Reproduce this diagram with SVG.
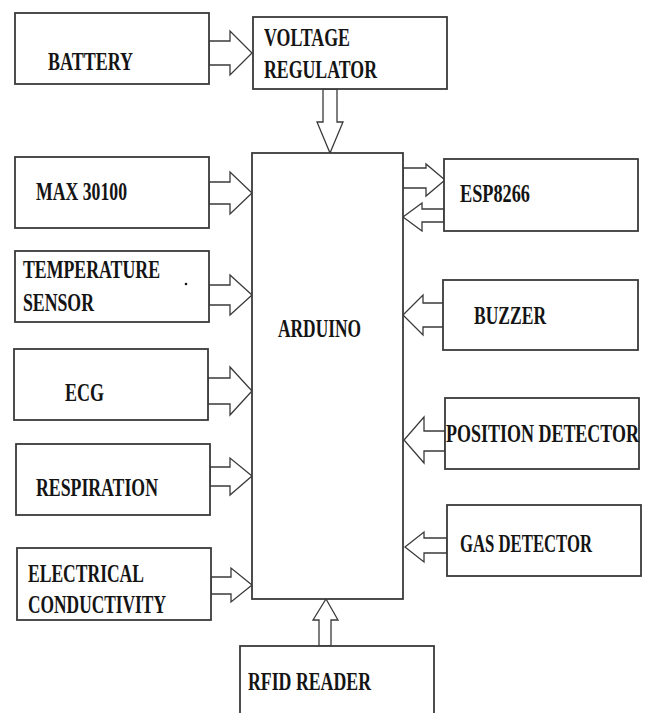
<svg xmlns="http://www.w3.org/2000/svg" width="646" height="713" viewBox="0 0 646 713">
<style>
.box{fill:#fff;stroke:#3a3a3a;stroke-width:1.8}
.arr{fill:#fff;stroke:#3a3a3a;stroke-width:1.3;stroke-linejoin:miter}
text{font-family:"Liberation Serif","Times New Roman",serif;font-weight:bold;font-size:25px;fill:#141414}
</style>
<rect width="646" height="713" fill="#fff"/>
<g id="connectors">
<polygon class="arr" points="209,41 230,41 230,31 252,53 230,75 230,65 209,65"/>
<polygon class="arr" points="323,89 323,122 317,122 330,153 343,122 337,122 337,89"/>
<polygon class="arr" points="209,182 230,182 230,172 252,193 230,214 230,204 209,204"/>
<polygon class="arr" points="209,285 230,285 230,275 252,295 230,315 230,305 209,305"/>
<polygon class="arr" points="208,378 230,378 230,367 252,391 230,415 230,404 208,404"/>
<polygon class="arr" points="210,467 230,467 230,458 252,476 230,495 230,486 210,486"/>
<polygon class="arr" points="211,577 231,577 231,568 252,585 231,602 231,594 211,594"/>
<polygon class="arr" points="319,646 319,620 313,620 326,599 338,620 331,620 331,646"/>
<polygon class="arr" points="403,168 426,168 426,164 445,180 426,196 426,188 403,188"/>
<polygon class="arr" points="444,209 422,209 422,203 403,217 422,231 422,222 444,222"/>
<polygon class="arr" points="444,303 423,303 423,295 403,315 423,335 423,327 444,327"/>
<polygon class="arr" points="445,431 424,431 424,417 404,440 424,463 424,451 445,451"/>
<polygon class="arr" points="447,538 424,538 424,532 405,547 424,562 424,553 447,553"/>
</g>
<g id="battery"><rect class="box" x="15" y="13" width="194" height="71"/><text transform="translate(48 70) scale(0.7 1)" textLength="121.4" lengthAdjust="spacingAndGlyphs">BATTERY</text></g>
<g id="voltage-regulator"><rect class="box" x="253" y="17" width="194" height="72"/><text transform="translate(264 46) scale(0.7 1)" textLength="122.9" lengthAdjust="spacingAndGlyphs">VOLTAGE</text><text transform="translate(264 78) scale(0.7 1)" textLength="161.4" lengthAdjust="spacingAndGlyphs">REGULATOR</text></g>
<g id="arduino"><rect class="box" x="252" y="153" width="151" height="446"/><text transform="translate(278 337) scale(0.7 1)" textLength="118.6" lengthAdjust="spacingAndGlyphs">ARDUINO</text></g>
<g id="max30100"><rect class="box" x="15" y="157" width="194" height="71"/><text transform="translate(36 200) scale(0.7 1)" textLength="130" lengthAdjust="spacingAndGlyphs">MAX 30100</text></g>
<g id="temperature-sensor"><rect class="box" x="15" y="251" width="194" height="71"/><text transform="translate(23 278) scale(0.7 1)" textLength="195.7" lengthAdjust="spacingAndGlyphs">TEMPERATURE</text><text transform="translate(23 311) scale(0.7 1)" textLength="101.4" lengthAdjust="spacingAndGlyphs">SENSOR</text><circle cx="186" cy="284" r="1.3" fill="#141414"/></g>
<g id="ecg"><rect class="box" x="14" y="349" width="194" height="71"/><text transform="translate(65 401) scale(0.7 1)" textLength="55.7" lengthAdjust="spacingAndGlyphs">ECG</text></g>
<g id="respiration"><rect class="box" x="16" y="444" width="194" height="71"/><text transform="translate(36 496) scale(0.7 1)" textLength="174.3" lengthAdjust="spacingAndGlyphs">RESPIRATION</text></g>
<g id="electrical-conductivity"><rect class="box" x="17" y="548" width="194" height="72"/><text transform="translate(28 582) scale(0.7 1)" textLength="165.7" lengthAdjust="spacingAndGlyphs">ELECTRICAL</text><text transform="translate(28 613) scale(0.7 1)" textLength="197.1" lengthAdjust="spacingAndGlyphs">CONDUCTIVITY</text></g>
<g id="rfid-reader"><rect class="box" x="240" y="646" width="194" height="80"/><text transform="translate(248 690) scale(0.7 1)" textLength="175.7" lengthAdjust="spacingAndGlyphs">RFID READER</text></g>
<g id="esp8266"><rect class="box" x="444" y="159" width="194" height="72"/><text transform="translate(460 202) scale(0.7 1)" textLength="100" lengthAdjust="spacingAndGlyphs">ESP8266</text></g>
<g id="buzzer"><rect class="box" x="443" y="280" width="195" height="70"/><text transform="translate(474 324) scale(0.7 1)" textLength="102.9" lengthAdjust="spacingAndGlyphs">BUZZER</text></g>
<g id="position-detector"><rect class="box" x="445" y="398" width="194" height="71"/><text transform="translate(446 442) scale(0.7 1)" textLength="275.7" lengthAdjust="spacingAndGlyphs">POSITION DETECTOR</text></g>
<g id="gas-detector"><rect class="box" x="447" y="505" width="194" height="71"/><text transform="translate(460 552) scale(0.7 1)" textLength="188.6" lengthAdjust="spacingAndGlyphs">GAS DETECTOR</text></g>
</svg>
